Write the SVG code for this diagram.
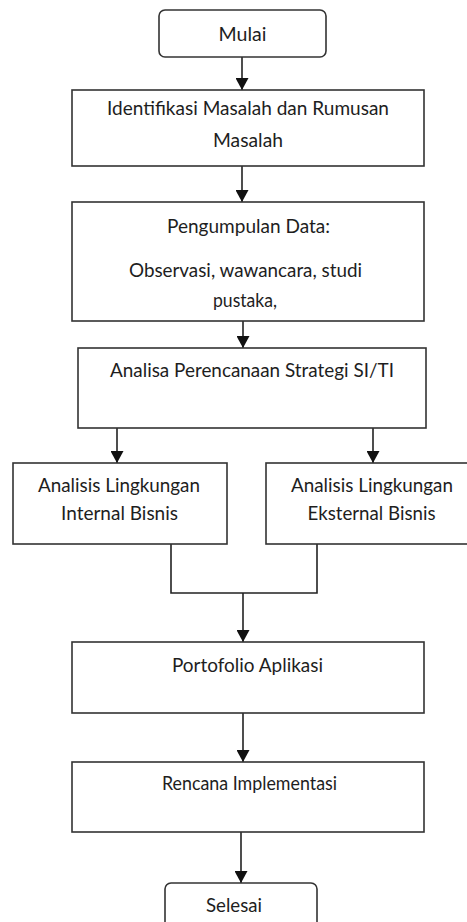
<svg xmlns="http://www.w3.org/2000/svg" width="467" height="922" viewBox="0 0 467 922">
<style>
.box{fill:#fff;stroke:#333;stroke-width:1.6}
.t{font-family:Lato,"Liberation Sans",sans-serif;font-size:18.5px;fill:#1e1e1e;text-anchor:middle}
.c{fill:none;stroke:#222;stroke-width:1.6}
</style>
<defs>
<marker id="ah" viewBox="0 0 12 13" refX="12" refY="6.5" markerWidth="12" markerHeight="13" markerUnits="userSpaceOnUse" orient="auto">
<path d="M0,0 L12,6.5 L0,13 Z" fill="#111"/>
</marker>
</defs>
<rect width="467" height="922" fill="#fff"/>
<g id="connectors">
<path class="c" d="M242,57 V90" marker-end="url(#ah)"/>
<path class="c" d="M242,166 V202" marker-end="url(#ah)"/>
<path class="c" d="M243,321 V348" marker-end="url(#ah)"/>
<path class="c" d="M117,428 V463" marker-end="url(#ah)"/>
<path class="c" d="M373,428 V463" marker-end="url(#ah)"/>
<path class="c" d="M171,544 V593 H317 V544"/>
<path class="c" d="M243,593 V642" marker-end="url(#ah)"/>
<path class="c" d="M243,713 V762" marker-end="url(#ah)"/>
<path class="c" d="M241,832 V883" marker-end="url(#ah)"/>
</g>
<g id="mulai">
<rect class="box" x="159" y="10" width="167" height="47" rx="6"/>
<text class="t" x="242.5" y="41" textLength="48" lengthAdjust="spacingAndGlyphs">Mulai</text>
</g>
<g id="identifikasi">
<rect class="box" x="72" y="90" width="352" height="76"/>
<text class="t" x="248" y="115" textLength="282" lengthAdjust="spacingAndGlyphs">Identifikasi Masalah dan Rumusan</text>
<text class="t" x="248" y="147" textLength="70" lengthAdjust="spacingAndGlyphs">Masalah</text>
</g>
<g id="pengumpulan">
<rect class="box" x="72" y="202" width="352" height="119"/>
<text class="t" x="248.5" y="232.5" textLength="163" lengthAdjust="spacingAndGlyphs">Pengumpulan Data:</text>
<text class="t" x="245.5" y="277" textLength="233" lengthAdjust="spacingAndGlyphs">Observasi, wawancara, studi</text>
<text class="t" x="245" y="306.5" textLength="64" lengthAdjust="spacingAndGlyphs">pustaka,</text>
</g>
<g id="analisa">
<rect class="box" x="78" y="348" width="348" height="80"/>
<text class="t" x="252" y="376.5" textLength="284" lengthAdjust="spacingAndGlyphs">Analisa Perencanaan Strategi SI/TI</text>
</g>
<g id="internal">
<rect class="box" x="13" y="463" width="214" height="81"/>
<text class="t" x="119" y="492" textLength="162" lengthAdjust="spacingAndGlyphs">Analisis Lingkungan</text>
<text class="t" x="119.5" y="519.5" textLength="117" lengthAdjust="spacingAndGlyphs">Internal Bisnis</text>
</g>
<g id="eksternal">
<rect class="box" x="266" y="463" width="212" height="81"/>
<text class="t" x="372" y="492" textLength="162" lengthAdjust="spacingAndGlyphs">Analisis Lingkungan</text>
<text class="t" x="371.5" y="519.5" textLength="128" lengthAdjust="spacingAndGlyphs">Eksternal Bisnis</text>
</g>
<g id="portofolio">
<rect class="box" x="72" y="642" width="352" height="71"/>
<text class="t" x="247.5" y="672" textLength="151" lengthAdjust="spacingAndGlyphs">Portofolio Aplikasi</text>
</g>
<g id="rencana">
<rect class="box" x="72" y="762" width="352" height="70"/>
<text class="t" x="249.5" y="790" textLength="175" lengthAdjust="spacingAndGlyphs">Rencana Implementasi</text>
</g>
<g id="selesai">
<rect class="box" x="165" y="883" width="152" height="60" rx="6"/>
<text class="t" x="234" y="911.5" textLength="56" lengthAdjust="spacingAndGlyphs">Selesai</text>
</g>
</svg>
